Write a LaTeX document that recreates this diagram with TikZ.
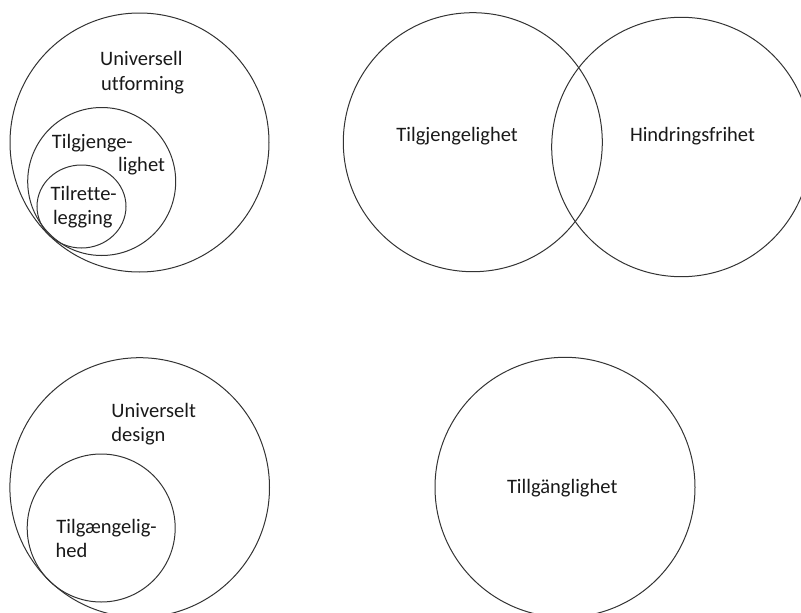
\documentclass[tikz,border=0pt]{standalone}
\usepackage{fontspec}
\setmainfont{Carlito}[Ligatures=NoCommon]
\usetikzlibrary{shapes.geometric}
\begin{document}
\begin{tikzpicture}[x=1pt,y=-1pt,
  ring/.style={circle,draw=black!80,line width=1pt,inner sep=0pt},
  oval/.style={ellipse,draw=black!80,line width=1pt,inner sep=0pt},
  lbl/.style={anchor=base west,inner sep=0pt,text=black!90,font=\fontsize{20.5}{25}\selectfont}]
\useasboundingbox (0,0) rectangle (801,613);
% top-left
\node[ring,minimum size=259pt] (uf) at (139.5,142.5) {};
\node[ring,minimum size=148pt] (tg) at (101.7,181.5) {};
\node[oval,minimum width=89pt,minimum height=83pt] (tr) at (81.5,206.5) {};
\node[lbl] (t1) at (100,65.7) {Universell};
\node[lbl] (t2) at (101,90.7) {utforming};
\node[lbl] (t3) at (51.7,148.3) {Tilgjenge-};
\node[lbl] (t4) at (118,171.7) {lighet};
\node[lbl] (t5) at (50.5,200.5) {Tilrette-};
\node[lbl] (t6) at (52.8,224) {legging};
% top-right
\node[ring,minimum size=259pt] (tj) at (472.8,142.2) {};
\node[ring,minimum size=259.4pt] (hf) at (681.4,147) {};
\node[lbl] (t7) at (396.2,141.7) {Tilgjengelighet};
\node[lbl] (t8) at (629.8,141.7) {Hindringsfrihet};
% bottom-left
\node[ring,minimum size=259.6pt] (ud) at (139.7,487.5) {};
\node[ring,minimum size=148pt] (tgd) at (101.2,528) {};
\node[lbl] (t9) at (111.2,417.3) {Universelt};
\node[lbl] (t10) at (111.2,441.7) {design};
\node[lbl] (t11) at (56.2,533.3) {Tilgængelig-};
\node[lbl] (t12) at (55.5,557.7) {hed};
% bottom-right
\node[ring,minimum size=260pt] (tl) at (565,487.3) {};
\node[lbl] (t13) at (506.8,493.3) {Tillgänglighet};
\end{tikzpicture}
\end{document}
